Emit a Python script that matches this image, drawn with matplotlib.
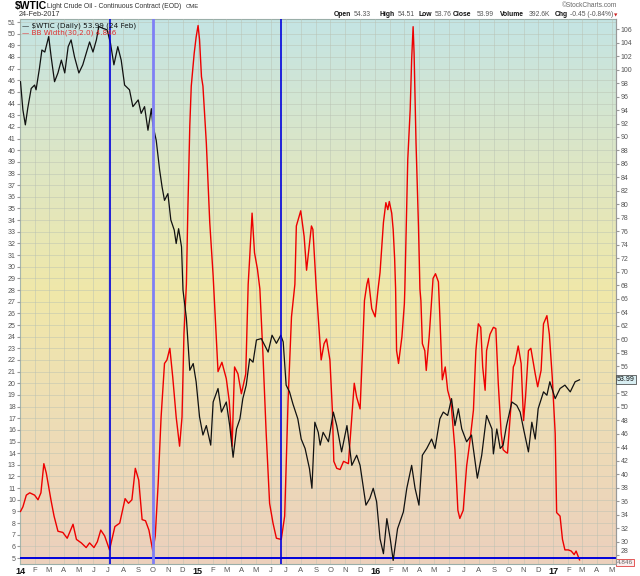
import numpy as np
import pandas as pd
import matplotlib
matplotlib.use('Agg')
import matplotlib.pyplot as plt
import matplotlib.dates as mdates
from matplotlib.colors import LinearSegmentedColormap

# $WTIC close (right axis)
wtic_date = ['2014-01-02', '2014-01-07', '2014-01-12', '2014-01-17', '2014-01-24', '2014-01-31',
             '2014-02-03', '2014-02-10', '2014-02-15', '2014-02-21', '2014-03-01', '2014-03-06',
             '2014-03-13', '2014-03-20', '2014-03-27', '2014-04-03', '2014-04-10', '2014-04-16',
             '2014-04-23', '2014-05-02', '2014-05-10', '2014-05-17', '2014-05-24', '2014-05-31',
             '2014-06-07', '2014-06-12', '2014-06-21', '2014-06-29', '2014-07-06', '2014-07-13',
             '2014-07-21', '2014-07-28', '2014-08-04', '2014-08-14', '2014-08-21', '2014-09-01',
             '2014-09-07', '2014-09-14', '2014-09-21', '2014-09-28', '2014-10-01', '2014-10-08',
             '2014-10-15', '2014-10-20', '2014-10-25', '2014-11-01', '2014-11-07', '2014-11-14',
             '2014-11-18', '2014-11-23', '2014-11-29', '2014-12-02', '2014-12-09', '2014-12-16',
             '2014-12-23', '2014-12-29', '2015-01-05', '2015-01-12', '2015-01-19', '2015-01-28',
             '2015-02-02', '2015-02-12', '2015-02-19', '2015-03-01', '2015-03-08', '2015-03-15',
             '2015-03-22', '2015-03-29', '2015-04-04', '2015-04-11', '2015-04-18', '2015-04-25',
             '2015-05-02', '2015-05-12', '2015-05-19', '2015-05-26', '2015-06-03', '2015-06-12',
             '2015-06-21', '2015-06-26', '2015-07-02', '2015-07-09', '2015-07-16', '2015-07-26',
             '2015-08-02', '2015-08-10', '2015-08-19', '2015-08-24', '2015-08-30', '2015-09-06',
             '2015-09-10', '2015-09-16', '2015-09-27', '2015-10-07', '2015-10-14', '2015-10-24',
             '2015-11-04', '2015-11-14', '2015-11-24', '2015-12-01', '2015-12-08', '2015-12-13',
             '2015-12-21', '2015-12-28', '2016-01-04', '2016-01-11', '2016-01-18', '2016-01-25',
             '2016-02-01', '2016-02-07', '2016-02-16', '2016-02-28', '2016-03-06', '2016-03-16',
             '2016-03-23', '2016-03-31', '2016-04-07', '2016-04-16', '2016-04-26', '2016-05-03',
             '2016-05-13', '2016-05-20', '2016-05-29', '2016-06-06', '2016-06-13', '2016-06-20',
             '2016-06-27', '2016-07-07', '2016-07-17', '2016-07-29', '2016-08-07', '2016-08-17',
             '2016-08-28', '2016-08-31', '2016-09-07', '2016-09-14', '2016-09-20', '2016-09-27',
             '2016-10-08', '2016-10-18', '2016-10-25', '2016-11-01', '2016-11-11', '2016-11-18',
             '2016-11-25', '2016-12-01', '2016-12-12', '2016-12-19', '2016-12-25', '2017-01-05',
             '2017-01-15', '2017-01-25', '2017-02-05', '2017-02-15', '2017-02-24']
wtic_close = [98.2, 94.0, 91.8, 94.3, 97.2, 97.7,
              97.0, 100.2, 102.9, 102.6, 104.9, 101.9,
              98.2, 99.5, 101.4, 99.5, 103.4, 104.4,
              101.9, 99.5, 100.7, 102.4, 104.1, 102.6,
              104.4, 106.4, 106.1, 105.9, 103.9, 100.7,
              103.4, 101.4, 97.7, 97.0, 94.5, 95.5,
              93.5, 94.5, 91.0, 94.2, 91.8, 89.5,
              85.1, 82.6, 80.6, 81.6, 77.7, 76.2,
              74.2, 76.4, 73.7, 67.3, 63.1, 55.4,
              56.4, 53.7, 48.5, 45.8, 47.2, 44.3,
              50.7, 52.7, 49.2, 50.7, 47.2, 42.5,
              46.7, 48.2, 51.2, 53.2, 57.1, 56.6,
              59.9, 60.1, 59.1, 58.1, 60.6, 59.4,
              60.6, 59.6, 53.2, 52.2, 50.4, 48.2,
              45.2, 43.8, 40.8, 37.9, 47.7, 46.2,
              44.3, 46.2, 44.8, 49.2, 47.2, 43.3,
              47.2, 41.3, 42.8, 41.3, 37.9, 35.4,
              36.4, 37.9, 35.9, 30.4, 28.2, 33.4,
              30.4, 27.2, 31.9, 34.4, 37.9, 41.3,
              37.9, 35.4, 42.8, 43.8, 45.2, 43.8,
              48.2, 49.2, 48.7, 51.2, 47.2, 49.7,
              46.7, 44.8, 45.8, 39.4, 42.8, 48.7,
              46.7, 43.0, 46.7, 43.8, 44.3, 47.2,
              50.7, 50.2, 49.2, 46.7, 43.3, 47.7,
              45.2, 49.7, 52.2, 51.7, 53.7, 51.2,
              52.7, 53.2, 52.2, 53.7, 53.99]

# BB Width(30,2.0), left axis
bbw_date = ['2014-01-02', '2014-01-07', '2014-01-14', '2014-01-21', '2014-01-31', '2014-02-07',
            '2014-02-13', '2014-02-19', '2014-02-24', '2014-03-01', '2014-03-06', '2014-03-12',
            '2014-03-20', '2014-03-30', '2014-04-08', '2014-04-13', '2014-04-20', '2014-04-27',
            '2014-05-07', '2014-05-17', '2014-05-24', '2014-06-02', '2014-06-09', '2014-06-16',
            '2014-06-24', '2014-07-04', '2014-07-15', '2014-07-25', '2014-08-05', '2014-08-12',
            '2014-08-19', '2014-08-26', '2014-09-02', '2014-09-09', '2014-09-16', '2014-09-23',
            '2014-10-01', '2014-10-06', '2014-10-12', '2014-10-18', '2014-10-25', '2014-10-30',
            '2014-11-05', '2014-11-11', '2014-11-18', '2014-11-25', '2014-11-30', '2014-12-04',
            '2014-12-09', '2014-12-12', '2014-12-16', '2014-12-19', '2014-12-25', '2014-12-29',
            '2015-01-02', '2015-01-05', '2015-01-09', '2015-01-12', '2015-01-19', '2015-01-26',
            '2015-02-02', '2015-02-08', '2015-02-12', '2015-02-20', '2015-03-01', '2015-03-07',
            '2015-03-13', '2015-03-18', '2015-03-25', '2015-04-01', '2015-04-10', '2015-04-15',
            '2015-04-18', '2015-04-23', '2015-04-28', '2015-05-04', '2015-05-09', '2015-05-15',
            '2015-05-22', '2015-05-29', '2015-06-05', '2015-06-12', '2015-06-22', '2015-06-29',
            '2015-07-06', '2015-07-13', '2015-07-20', '2015-07-23', '2015-08-01', '2015-08-08',
            '2015-08-13', '2015-08-23', '2015-08-26', '2015-09-02', '2015-09-06', '2015-09-12',
            '2015-09-18', '2015-09-23', '2015-09-30', '2015-10-05', '2015-10-08', '2015-10-14',
            '2015-10-21', '2015-10-28', '2015-11-07', '2015-11-14', '2015-11-19', '2015-11-24',
            '2015-12-01', '2015-12-06', '2015-12-10', '2015-12-15', '2015-12-18', '2015-12-25',
            '2016-01-01', '2016-01-07', '2016-01-11', '2016-01-18', '2016-01-23', '2016-01-27',
            '2016-01-30', '2016-02-04', '2016-02-07', '2016-02-10', '2016-02-12', '2016-02-14',
            '2016-02-18', '2016-02-25', '2016-03-01', '2016-03-02', '2016-03-08', '2016-03-13',
            '2016-03-16', '2016-03-19', '2016-03-21', '2016-03-25', '2016-03-30', '2016-04-02',
            '2016-04-04', '2016-04-07', '2016-04-12', '2016-04-15', '2016-04-21', '2016-04-26',
            '2016-04-29', '2016-05-04', '2016-05-10', '2016-05-13', '2016-05-18', '2016-05-24',
            '2016-05-29', '2016-06-05', '2016-06-13', '2016-06-19', '2016-06-23', '2016-06-30',
            '2016-07-07', '2016-07-14', '2016-07-21', '2016-07-26', '2016-07-31', '2016-08-05',
            '2016-08-09', '2016-08-14', '2016-08-17', '2016-08-24', '2016-08-31', '2016-09-05',
            '2016-09-10', '2016-09-16', '2016-09-20', '2016-09-25', '2016-09-29', '2016-10-06',
            '2016-10-11', '2016-10-14', '2016-10-21', '2016-10-27', '2016-11-01', '2016-11-05',
            '2016-11-11', '2016-11-16', '2016-11-25', '2016-11-30', '2016-12-07', '2016-12-12',
            '2016-12-19', '2016-12-24', '2016-12-30', '2017-01-05', '2017-01-08', '2017-01-15',
            '2017-01-20', '2017-01-25', '2017-02-01', '2017-02-07', '2017-02-13', '2017-02-17',
            '2017-02-24']
bbw_value = [9.0, 9.4, 10.4, 10.6, 10.4, 10.0,
             10.6, 13.1, 12.3, 11.1, 9.9, 8.6,
             7.3, 7.2, 6.7, 7.2, 7.9, 6.6,
             6.3, 5.9, 6.3, 5.9, 6.4, 7.4,
             6.9, 5.7, 7.7, 8.0, 10.1, 9.7,
             10.0, 12.7, 11.7, 8.3, 8.2, 7.4,
             5.6, 6.9, 11.4, 17.1, 21.7, 22.0,
             23.0, 20.5, 17.1, 14.6, 17.1, 24.2,
             28.5, 34.9, 42.1, 45.5, 48.3, 49.7,
             50.7, 49.5, 46.3, 45.5, 40.6, 33.8,
             29.2, 24.2, 21.0, 21.8, 20.4, 18.5,
             14.6, 21.4, 20.8, 19.1, 20.8, 28.5,
             30.7, 34.6, 31.2, 29.8, 28.1, 22.8,
             15.7, 9.7, 8.0, 6.7, 6.6, 8.6,
             18.5, 25.7, 28.5, 33.5, 34.8, 32.6,
             29.7, 33.5, 33.2, 28.1, 25.7, 22.0,
             23.4, 23.8, 22.0, 17.7, 13.3, 12.7,
             12.6, 13.3, 13.1, 17.1, 20.0, 18.8,
             17.8, 22.8, 27.1, 28.5, 29.0, 26.4,
             25.7, 28.1, 29.5, 33.8, 35.5, 34.9,
             35.6, 34.6, 33.2, 30.7, 28.1, 22.8,
             21.7, 24.0, 26.8, 28.1, 39.2, 43.5,
             47.8, 50.6, 48.3, 40.6, 33.5, 28.1,
             27.1, 23.4, 22.8, 21.1, 24.0, 27.1,
             29.0, 29.4, 28.7, 25.7, 20.3, 21.4,
             19.4, 18.3, 14.3, 9.1, 8.4, 9.1,
             12.9, 15.1, 17.7, 22.8, 25.1, 24.8,
             21.4, 19.4, 22.8, 24.2, 24.8, 24.7,
             20.0, 15.7, 14.3, 14.1, 14.0, 18.0,
             21.4, 21.7, 23.2, 21.7, 16.8, 18.8,
             22.8, 23.0, 20.8, 19.7, 21.1, 25.1,
             25.8, 24.2, 20.5, 15.7, 8.9, 8.6,
             6.6, 5.7, 5.7, 5.6, 5.3, 5.6,
             4.846]

# annotation lines drawn on the chart
vline_dates = ['2014-07-04', '2014-10-01', '2015-06-22']
vline_colors = ['#0000dd', '#7f7ff5', '#0000dd']
vline_widths = [1.2, 2.0, 1.2]
bbw_level = 5.0
last_close = 53.99
last_bbw = 4.846


def px(x, y):
    return x / 640.0, 1 - y / 576.0


def draw_chart():
    fig = plt.figure(figsize=(6.4, 5.76), dpi=100)
    fig.patch.set_facecolor('white')
    ax = fig.add_axes([20 / 640.0, 1 - 564 / 576.0, 596 / 640.0, 545 / 576.0])
    ax2 = ax.twinx()

    # gradient background
    cmap = LinearSegmentedColormap.from_list('sc', [(0, '#ecd0bd'), (0.28, '#eedeb5'), (0.5, '#f0e8a9'),
                                                    (0.75, '#dce6c6'), (1, '#c4e4e4')])
    grad = np.linspace(0, 1, 256).reshape(-1, 1)
    ax.imshow(grad, cmap=cmap, aspect='auto', extent=[0, 1, 0, 1], origin='lower',
              transform=ax.transAxes, zorder=0)

    bd = pd.to_datetime(bbw_date)
    wd = pd.to_datetime(wtic_date)

    ax.plot(bd, bbw_value, color='#ee0000', lw=1.0, zorder=3)
    ax.axhline(bbw_level, color='#0000dd', lw=1.4, zorder=4)
    ax2.plot(wd, wtic_close, color='#111111', lw=0.9, zorder=3)
    for d, c, w in zip(vline_dates, vline_colors, vline_widths):
        ax2.axvline(pd.Timestamp(d), color=c, lw=w, zorder=5)

    ax.set_xlim(pd.Timestamp('2014-01-01'), pd.Timestamp('2017-05-10'))
    ax.set_ylim(4.49, 51.26)
    ax2.set_ylim(26.67, 107.5)

    # x axis: months, January shown as year
    months = pd.date_range('2014-01-01', '2017-05-01', freq='MS')
    labels = [('%02d' % (m.year % 100)) if m.month == 1 else m.strftime('%b')[0] for m in months]
    ax.set_xticks(months)
    ax.set_xticklabels(labels)
    for m, t in zip(months, ax.get_xticklabels()):
        t.set_fontfamily('Liberation Sans')
        if m.month == 1:
            t.set_fontweight('bold')
            t.set_color('#111111')
            t.set_fontsize(6.5)
        else:
            t.set_color('#555555')
            t.set_fontsize(5.5)
    ax.tick_params(axis='x', length=0, pad=2)

    ax.set_yticks(np.arange(5, 52, 1))
    ax.tick_params(axis='y', length=2, pad=1, labelsize=5, labelcolor='#555555', color='#999999')
    rticks = np.arange(28, 107, 2)
    ax2.set_yticks(rticks)
    # the close tag sits where the 54 label would be
    ax2.set_yticklabels(['' if v == 54 else str(v) for v in rticks])
    ax2.tick_params(axis='y', length=2, pad=1.5, labelsize=5, labelcolor='#555555', color='#999999')
    for t in ax.get_yticklabels() + ax2.get_yticklabels():
        t.set_fontfamily('Liberation Sans')
    # 28 sits just above the BB width tag
    ax2.get_yticklabels()[0].set_va('bottom')

    ax.grid(True, color='#b8c0b2', lw=0.6, alpha=0.55, zorder=1)
    ax.set_axisbelow(False)
    for sp in ax.spines.values():
        sp.set_color('#9aaea8')
    for sp in ax2.spines.values():
        sp.set_visible(False)
    ax2.spines['right'].set_visible(True)
    ax2.spines['right'].set_color('#999999')
    ax2.spines['right'].set_linestyle((0, (1, 1)))

    # legend, top left inside the plot
    ax2.text(0.004, 0.993, u'\u2014 \\$WTIC (Daily) 53.99 (24 Feb)', transform=ax2.transAxes, fontsize=5.2,
             color='#111111', va='top', ha='left', family='DejaVu Sans', zorder=8)
    ax2.text(0.004, 0.980, u'\u2014 BB Width(30,2.0) 4.846', transform=ax2.transAxes, fontsize=5.2,
             color='#e03030', va='top', ha='left', family='DejaVu Sans', zorder=8)

    # value tags on the right axis
    ax2.text(1.002, last_close, '%.2f' % last_close, transform=ax2.get_yaxis_transform(), fontsize=5,
             va='center', ha='left', family='Liberation Sans', color='#111111', clip_on=False,
             bbox=dict(boxstyle='square,pad=0.15', fc='#d8eef2', ec='#333333', lw=0.5))
    ax.text(1.002, last_bbw, '%.3f' % last_bbw, transform=ax.get_yaxis_transform(), fontsize=4.6,
            va='top', ha='left', family='Liberation Sans', color='#666666', clip_on=False,
            bbox=dict(boxstyle='square,pad=0.12', fc='#fbeeee', ec='#e04040', lw=0.6))

    # header
    fig.text(*px(15, 6), '\\$WTIC', fontsize=7.5, fontweight='bold', va='center', ha='left',
             family='Liberation Sans')
    fig.text(*px(47, 6.5), 'Light Crude Oil - Continuous Contract (EOD)', fontsize=4.9, va='center',
             ha='left', family='Liberation Sans', color='#333333')
    fig.text(*px(186, 6.5), 'CME', fontsize=4.3, va='center', ha='left', family='Liberation Sans',
             color='#333333')
    fig.text(*px(19, 14.7), '24-Feb-2017', fontsize=5.2, va='center', ha='left',
             family='Liberation Sans', color='#333333')
    fig.text(*px(617, 5.5), u'\u00a9StockCharts.com', fontsize=4.8, va='center', ha='right',
             family='Liberation Sans', color='#666666')
    items = [(334, 'Open', True), (354, '54.33', False), (379, 'High', True), (397.5, '54.51', False),
             (418.5, 'Low', True), (435, '53.76', False), (452.5, 'Close', True), (477, '53.99', False),
             (500, 'Volume', True), (529, '392.6K', False), (555, 'Chg', True),
             (570, '-0.45 (-0.84%)', False)]
    for x, s, b in items:
        fig.text(*px(x, 15), s, fontsize=4.9, va='center', ha='left', family='Liberation Sans',
                 fontweight='bold' if b else 'normal', color='#111111' if b else '#555555')
    fig.text(*px(614, 15.5), u'\u25bc', fontsize=3.2, va='center', ha='left', color='#cc2222',
             family='DejaVu Sans')

    fig.savefig('out.png', dpi=100)


if __name__ == '__main__':
    draw_chart()
